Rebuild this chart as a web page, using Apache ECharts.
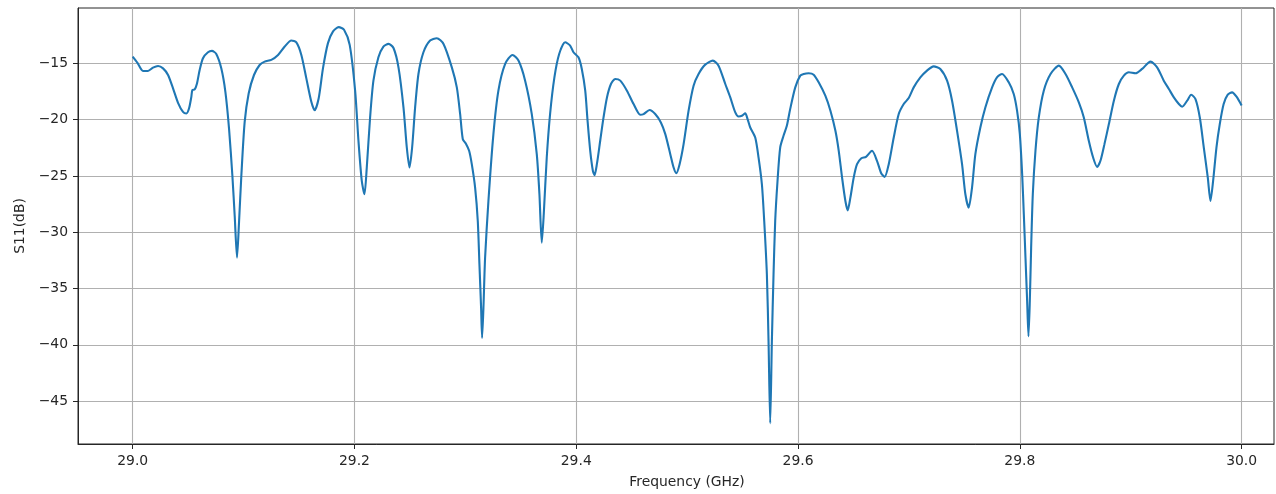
<!DOCTYPE html>
<html>
<head>
<meta charset="utf-8">
<script src="https://cdn.jsdelivr.net/npm/echarts@6/dist/echarts.min.js"></script>
<style>
  html, body { margin: 0; padding: 0; background: #fff; }
  #chart { width: 1276px; height: 494px; }
</style>
</head>
<body>
<div id="chart"></div>
<script>
// Measured S11 reflection sweep, 29–30 GHz
const freqGHz = [
  29.0000, 29.0042, 29.0093, 29.0138, 29.0183, 29.0229, 29.0274, 29.0319, 29.0364, 29.0409,
  29.0454, 29.0484, 29.0508, 29.0529, 29.0538, 29.0559, 29.0580, 29.0604, 29.0634, 29.0679,
  29.0715, 29.0754, 29.0799, 29.0836, 29.0869, 29.0899, 29.0920, 29.0941, 29.0959, 29.0980,
  29.1010, 29.1046, 29.1094, 29.1145, 29.1190, 29.1250, 29.1311, 29.1371, 29.1431, 29.1476,
  29.1521, 29.1566, 29.1611, 29.1641, 29.1677, 29.1716, 29.1761, 29.1807, 29.1858, 29.1906,
  29.1957, 29.2006, 29.2036, 29.2066, 29.2090, 29.2111, 29.2141, 29.2171, 29.2216, 29.2261,
  29.2307, 29.2352, 29.2397, 29.2442, 29.2472, 29.2496, 29.2520, 29.2547, 29.2577, 29.2622,
  29.2682, 29.2742, 29.2803, 29.2878, 29.2923, 29.2953, 29.2977, 29.3004, 29.3034, 29.3058,
  29.3088, 29.3112, 29.3127, 29.3142, 29.3151, 29.3163, 29.3178, 29.3208, 29.3253, 29.3298,
  29.3359, 29.3425, 29.3479, 29.3539, 29.3599, 29.3644, 29.3668, 29.3689, 29.3707, 29.3734,
  29.3764, 29.3803, 29.3846, 29.3900, 29.3945, 29.3975, 29.4020, 29.4050, 29.4081, 29.4102,
  29.4126, 29.4150, 29.4165, 29.4186, 29.4216, 29.4246, 29.4277, 29.4313, 29.4352, 29.4397,
  29.4457, 29.4517, 29.4577, 29.4607, 29.4661, 29.4712, 29.4763, 29.4803, 29.4848, 29.4878,
  29.4902, 29.4932, 29.4968, 29.5013, 29.5058, 29.5103, 29.5163, 29.5232, 29.5283, 29.5344,
  29.5389, 29.5434, 29.5464, 29.5494, 29.5524, 29.5545, 29.5569, 29.5614, 29.5644, 29.5674,
  29.5695, 29.5719, 29.5734, 29.5749, 29.5764, 29.5779, 29.5794, 29.5815, 29.5839, 29.5869,
  29.5899, 29.5929, 29.5975, 29.6020, 29.6051, 29.6096, 29.6141, 29.6186, 29.6246, 29.6292,
  29.6337, 29.6367, 29.6397, 29.6427, 29.6448, 29.6472, 29.6502, 29.6532, 29.6571, 29.6613,
  29.6667, 29.6712, 29.6751, 29.6781, 29.6818, 29.6863, 29.6908, 29.6953, 29.6998, 29.7043,
  29.7103, 29.7163, 29.7223, 29.7283, 29.7344, 29.7389, 29.7434, 29.7479, 29.7509, 29.7539,
  29.7569, 29.7599, 29.7644, 29.7689, 29.7750, 29.7794, 29.7840, 29.7900, 29.7945, 29.7975,
  29.8000, 29.8021, 29.8036, 29.8051, 29.8066, 29.8078, 29.8090, 29.8102, 29.8117, 29.8141,
  29.8171, 29.8216, 29.8277, 29.8352, 29.8412, 29.8472, 29.8532, 29.8577, 29.8622, 29.8661,
  29.8697, 29.8727, 29.8763, 29.8803, 29.8848, 29.8893, 29.8938, 29.8983, 29.9043, 29.9103,
  29.9178, 29.9238, 29.9298, 29.9344, 29.9389, 29.9434, 29.9464, 29.9509, 29.9545, 29.9584,
  29.9623, 29.9659, 29.9695, 29.9719, 29.9743, 29.9773, 29.9803, 29.9838, 29.9875, 29.9914,
  29.9954, 30.0000
];

const s11dB = [
  -14.40, -14.94, -15.68, -15.68, -15.39, -15.24, -15.45, -16.04, -17.23, -18.51,
  -19.32, -19.46, -19.02, -17.98, -17.38, -17.32, -16.79, -15.60, -14.55, -14.02,
  -13.90, -14.17, -15.45, -17.53, -20.80, -24.97, -28.54, -32.26, -29.14, -24.97,
  -20.21, -17.68, -16.04, -15.15, -14.85, -14.70, -14.26, -13.51, -12.98, -13.15,
  -14.26, -16.34, -18.42, -19.17, -18.13, -15.45, -13.21, -12.17, -11.79, -12.02,
  -13.36, -17.43, -21.88, -25.45, -26.63, -24.26, -19.81, -16.54, -14.47, -13.52,
  -13.28, -13.64, -15.36, -18.92, -22.48, -24.26, -22.48, -18.92, -15.95, -14.02,
  -12.98, -12.77, -13.28, -15.36, -17.14, -19.51, -21.74, -22.12, -22.77, -23.96,
  -26.04, -29.01, -32.86, -36.72, -39.39, -36.72, -32.27, -27.23, -21.29, -17.43,
  -15.06, -14.26, -14.76, -16.54, -19.51, -23.07, -26.63, -30.93, -28.41, -23.37,
  -19.51, -16.25, -14.17, -13.13, -13.43, -14.02, -14.47, -15.50, -17.43, -20.10,
  -22.77, -24.55, -24.94, -23.96, -21.88, -19.81, -18.03, -16.84, -16.39, -16.54,
  -17.43, -18.62, -19.57, -19.51, -19.15, -19.51, -20.25, -21.29, -23.07, -24.26,
  -24.76, -23.96, -22.18, -19.21, -16.99, -15.95, -15.12, -14.76, -15.21, -16.84,
  -18.03, -19.36, -19.72, -19.66, -19.45, -19.96, -20.70, -21.59, -23.37, -25.74,
  -29.01, -33.75, -39.69, -46.96, -39.69, -33.75, -29.01, -25.45, -22.48, -21.44,
  -20.55, -19.07, -17.14, -16.10, -15.95, -15.89, -16.01, -16.69, -17.88, -19.21,
  -20.99, -22.77, -25.15, -27.23, -28.06, -26.93, -25.15, -23.96, -23.43, -23.31,
  -22.77, -23.66, -24.79, -25.09, -23.96, -21.59, -19.51, -18.62, -18.09, -17.14,
  -16.25, -15.65, -15.27, -15.50, -16.54, -18.32, -21.00, -23.96, -26.63, -27.82,
  -26.04, -23.07, -20.70, -18.92, -17.14, -16.25, -15.95, -16.69, -17.73, -19.21,
  -21.29, -24.85, -28.41, -32.27, -36.13, -39.24, -36.13, -31.38, -26.63, -22.77,
  -19.81, -17.43, -15.95, -15.21, -15.95, -17.14, -18.47, -19.81, -21.88, -23.37,
  -24.20, -23.66, -22.18, -20.40, -18.32, -16.84, -16.10, -15.80, -15.89, -15.50,
  -14.85, -15.36, -16.54, -17.28, -18.03, -18.62, -18.86, -18.32, -17.79, -18.18,
  -19.81, -22.48, -25.15, -27.23, -25.45, -22.48, -20.40, -18.62, -17.79, -17.58,
  -17.97, -18.75
];

// Tick positions
const xTicks = [29.0, 29.2, 29.4, 29.6, 29.8, 30.0];
const yTicks = [-45, -40, -35, -30, -25, -20, -15];

const points = freqGHz.map((f, i) => [f, s11dB[i]]);

const FONT = 'DejaVu Sans';
const TEXT = '#262626';

const chart = echarts.init(document.getElementById('chart'), null, { renderer: 'canvas' });

chart.setOption({
  animation: false,
  backgroundColor: '#ffffff',
  grid: {
    left: 78, right: 2, top: 8, bottom: 50,
    show: true,
    borderColor: '#262626',
    borderWidth: 1,
    backgroundColor: 'transparent'
  },
  xAxis: {
    type: 'value',
    min: 28.9507,
    max: 30.0292,
    name: 'Frequency (GHz)',
    nameLocation: 'middle',
    nameGap: 31,
    nameTextStyle: { fontFamily: FONT, fontSize: 13.9, color: TEXT, padding: [0, 0, 0, 22] },
    axisLine: { show: true, onZero: false, lineStyle: { color: '#262626', width: 1 } },
    axisTick: { show: true, length: 5, customValues: xTicks, lineStyle: { color: '#262626', width: 1 } },
    axisLabel: {
      customValues: xTicks,
      margin: 10,
      fontFamily: FONT, fontSize: 13.9, color: TEXT,
      formatter: v => v.toFixed(1)
    },
    splitLine: { show: true, lineStyle: { color: '#b0b0b0', width: 1.1 } }
  },
  yAxis: {
    type: 'value',
    min: -48.81,
    max: -10.09,
    name: 'S11(dB)',
    nameLocation: 'middle',
    nameGap: 47,
    nameTextStyle: { fontFamily: FONT, fontSize: 13.9, color: TEXT },
    axisLine: { show: true, onZero: false, lineStyle: { color: '#262626', width: 1 } },
    axisTick: { show: true, length: 5, customValues: yTicks, lineStyle: { color: '#262626', width: 1 } },
    axisLabel: {
      customValues: yTicks,
      margin: 10,
      fontFamily: FONT, fontSize: 13.9, color: TEXT,
      formatter: v => (v < 0 ? '\u2212' + Math.abs(v) : String(v))
    },
    splitLine: { show: true, lineStyle: { color: '#b0b0b0', width: 1.1 } }
  },
  series: [{
    type: 'line',
    data: points,
    showSymbol: false,
    smooth: 0.25,
    lineStyle: { color: '#1f77b4', width: 2.1 },
    z: 3
  }]
});
</script>
</body>
</html>
